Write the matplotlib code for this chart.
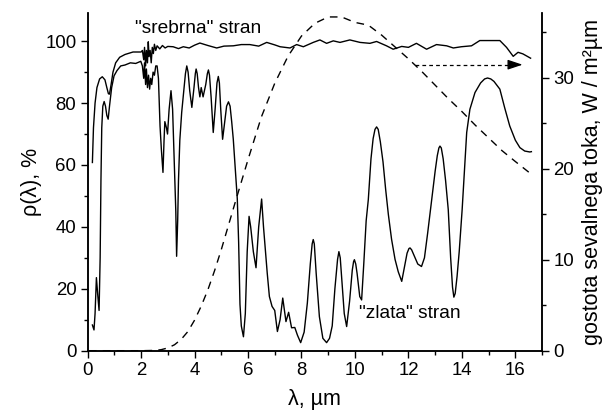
import matplotlib
matplotlib.use("Agg")
import matplotlib.pyplot as plt
from matplotlib.ticker import MultipleLocator

plt.rcParams['font.family'] = ['Liberation Sans', 'DejaVu Sans']

# "zlata" (gold) side reflectance, %
gold_wl = [0.18, 0.24, 0.28, 0.33, 0.38, 0.43, 0.47, 0.50, 0.53, 0.57, 0.62, 0.67, 0.72, 0.77,
           0.82, 0.90, 0.99, 1.10, 1.24, 1.40, 1.60, 1.80, 1.99, 2.05, 2.10, 2.13, 2.17, 2.20,
           2.24, 2.28, 2.32, 2.36, 2.40, 2.45, 2.50, 2.55, 2.60, 2.65, 2.71, 2.76, 2.82, 2.86,
           2.89, 2.95, 2.99, 3.05, 3.12, 3.18, 3.24, 3.30, 3.33, 3.37, 3.40, 3.45, 3.52, 3.60,
           3.66, 3.71, 3.76, 3.82, 3.90, 3.98, 4.03, 4.06, 4.10, 4.15, 4.20, 4.25, 4.32, 4.42,
           4.48, 4.52, 4.56, 4.62, 4.70, 4.77, 4.84, 4.89, 4.93, 4.98, 5.05, 5.13, 5.20, 5.27,
           5.33, 5.39, 5.45, 5.53, 5.60, 5.65, 5.70, 5.75, 5.83, 5.90,
           5.97, 6.04, 6.10, 6.20, 6.30, 6.40, 6.51, 6.58, 6.64, 6.72, 6.80, 6.90, 7.00, 7.10,
           7.20, 7.30, 7.42, 7.52, 7.63, 7.75, 7.85, 7.97, 8.10, 8.22, 8.33, 8.40, 8.44, 8.48,
           8.55, 8.67, 8.80, 8.94, 9.05, 9.15, 9.25, 9.35, 9.40, 9.45, 9.50, 9.60, 9.69, 9.80,
           9.90, 9.95, 9.98, 10.03, 10.08, 10.18, 10.25, 10.33, 10.42, 10.50, 10.60, 10.68,
           10.75, 10.81, 10.87, 10.95, 11.05, 11.15, 11.25, 11.37, 11.50, 11.62, 11.75, 11.85,
           11.95, 12.02, 12.06, 12.12, 12.20, 12.35, 12.49, 12.60, 12.72, 12.87, 13.00, 13.08,
           13.14, 13.18, 13.23, 13.30, 13.39, 13.49, 13.58, 13.65, 13.70, 13.75, 13.82, 13.90,
           14.01, 14.18, 14.30, 14.49, 14.70, 14.85, 14.96, 15.08, 15.20, 15.42, 15.60, 15.79,
           16.00, 16.17, 16.35, 16.54, 16.60]
gold_r = [8.3, 6.7, 12, 23.6, 18, 13, 30, 55, 72, 79, 80.5, 79, 76, 74.8,
          79, 85, 88.8, 90.5, 92, 92.3, 93, 92.8, 93.5, 92, 88, 93, 86, 91,
          85, 89, 84.5, 88, 86, 90, 89, 92, 92, 88, 72.6, 65, 57.6, 68,
          74, 72, 70, 78, 84, 78, 62, 45, 30.5, 42, 55, 68, 77, 84,
          89.5, 92, 90, 84, 78.6, 85, 89.5, 91, 89.5, 85, 82, 85, 82, 86,
          89.5, 90.7, 89, 82, 70.5, 78, 86.5, 88.6, 86.5, 78, 68.3, 74, 79, 80.4,
          79, 74, 68.3, 58, 49, 35, 15, 8, 4.5, 12,
          32, 43.4, 40, 32, 26.8, 40, 49, 40, 33.7, 25, 17.5, 14.3, 13, 6.2,
          10, 17, 9.4, 12.4, 7.4, 7.5, 5, 2.6, 6, 15.4, 28, 34.5, 35.9, 34.5,
          25, 11, 4, 2.6, 4, 8, 20, 29.5, 32, 30, 24, 12, 7.8, 16,
          26, 28.8, 29.4, 28, 25, 17.5, 16.4, 28, 42, 48.8, 62, 68.5,
          71.5, 72.3, 71.5, 67.5, 61, 52, 44, 36, 29.5, 25.5, 22.4, 27,
          31.5, 33, 33.2, 32.6, 31, 28, 27.2, 30, 38, 48.8, 58, 63,
          65.5, 66.1, 65.5, 62, 55, 45.6, 30, 20.5, 17.3, 18.5, 24, 32,
          45.6, 70.5, 78, 83.4, 86.5, 87.8, 88.1, 87.8, 87, 84.5, 78.5, 72.6,
          68, 65.6, 64.5, 64.2, 64.3]

# "srebrna" (silver) side reflectance, %
silver_wl = [0.18, 0.22, 0.28, 0.35, 0.45, 0.55, 0.65, 0.72, 0.78, 0.82, 0.88, 0.95, 1.05,
             1.20, 1.40, 1.70, 2.00, 2.05, 2.10, 2.13, 2.17, 2.20, 2.24, 2.27, 2.30, 2.34,
             2.38, 2.42, 2.46, 2.50, 2.55, 2.60, 2.70, 2.80, 2.90, 3.00, 3.20, 3.40, 3.58,
             3.80, 4.00, 4.20, 4.50, 4.83, 5.10, 5.45, 5.75, 6.07, 6.40, 6.70, 7.00, 7.20,
             7.57, 7.82, 8.07, 8.44, 8.69, 8.94, 9.19, 9.44, 9.81, 10.19, 10.56, 10.81,
             11.18, 11.43, 11.75, 12.00, 12.30, 12.68, 13.05, 13.43, 13.68, 13.98, 14.36,
             14.67, 15.00, 15.42, 15.67, 15.92, 16.10, 16.28, 16.57]
silver_r = [60.8, 72, 80, 85, 87.8, 88.5, 87.5, 85, 83, 82.9, 86, 90, 93,
            94.8, 95.7, 96.5, 96.5, 97, 94, 98, 92, 97, 93, 99.8, 95, 97,
            93, 98, 96, 99, 97, 98.5, 97.5, 98.6, 97.8, 98.3, 98.2, 97.6, 98.2,
            97.8, 98.7, 99.4, 98.6, 97.8, 98.4, 98.5, 98.9, 98.9, 98.4, 99.6, 98.8, 98.2,
            97.8, 98.9, 98.2, 99.6, 100.4, 99.3, 100.1, 99.6, 100.4, 99.6, 99.3, 99.9,
            98.5, 97.4, 98.3, 98.0, 99.3, 97.4, 98.9, 98.5, 97.8, 98.2, 98.5,
            100.2, 100.2, 100.2, 98.0, 95.1, 96.4, 95.9, 94.5]

# radiant flux density (right axis), W / m2 um
flux_wl = [0.05, 0.5, 1.0, 1.5, 2.0, 2.5, 2.75, 3.0, 3.25, 3.5, 3.75, 4.0, 4.25, 4.5, 4.75,
           5.0, 5.5, 6.0, 6.5, 7.0, 7.5, 8.0, 8.5, 9.0, 9.5, 10.0, 10.5, 11.0, 11.5, 12.0,
           12.5, 13.0, 13.5, 14.0, 14.5, 15.0, 15.5, 16.0, 16.6]
flux = [0, 0, 0, 0, 0, 0.03, 0.11, 0.3, 0.65, 1.24, 2.1, 3.35, 4.9, 6.7, 8.8,
        11.1, 16.1, 21.0, 25.7, 29.4, 32.4, 34.6, 36.0, 36.7, 36.7, 36.1, 35.8, 34.7, 33.4, 32.1,
        30.7, 29.2, 27.7, 26.3, 24.8, 23.4, 22.0, 20.8, 19.4]

arrow_from = (12.24, 92.4)
arrow_to = (16.27, 92.4)

fig = plt.figure(figsize=(6.04, 4.16), dpi=100)
ax = fig.add_axes([0.145, 0.157, 0.7525, 0.811])
ax2 = ax.twinx()

ax.plot(silver_wl, silver_r, color='k', lw=1.0)
ax.plot(gold_wl, gold_r, color='k', lw=1.0)
ax2.plot(flux_wl, flux, color='k', lw=1.0, linestyle=(0, (5.5, 4.5)))

# dotted arrow pointing to the right axis
head_start = arrow_to[0] - 0.5
ax.plot([arrow_from[0], head_start], [arrow_from[1], arrow_to[1]], color='k', lw=0.9,
        linestyle=(0, (3, 2.5)))
ax.annotate('', xy=arrow_to, xytext=(head_start, arrow_to[1]),
            arrowprops=dict(arrowstyle='-|>,head_length=0.9,head_width=0.3', color='k',
                            lw=0.9, shrinkA=0, shrinkB=0))

ax.text(4.13, 104, '"srebrna" stran', fontsize=13.8, ha='center', va='center')
ax.text(12.06, 11.9, '"zlata" stran', fontsize=13.8, ha='center', va='center')

ax.set_xlim(0, 17)
ax.set_ylim(0, 109)
ax2.set_ylim(0, 37.1)

ax.xaxis.set_major_locator(MultipleLocator(2))
ax.xaxis.set_minor_locator(MultipleLocator(1))
ax.yaxis.set_major_locator(MultipleLocator(20))
ax.yaxis.set_minor_locator(MultipleLocator(10))
ax2.yaxis.set_major_locator(MultipleLocator(10))
ax2.yaxis.set_minor_locator(MultipleLocator(5))

for a in (ax, ax2):
    a.spines['top'].set_visible(False)
    for s in a.spines.values():
        s.set_linewidth(1.1)
    a.tick_params(which='major', direction='out', length=5, width=1.0, labelsize=13.4, pad=3)
    a.tick_params(which='minor', direction='out', length=3, width=1.0)

ax.set_xlabel('λ, µm', fontsize=15.5, labelpad=7)
ax.set_ylabel('ρ(λ), %', fontsize=15.5, labelpad=2)
ax2.set_ylabel('gostota sevalnega toka, W / m²µm', fontsize=15.5, labelpad=6)

fig.savefig('out.png', dpi=100)
